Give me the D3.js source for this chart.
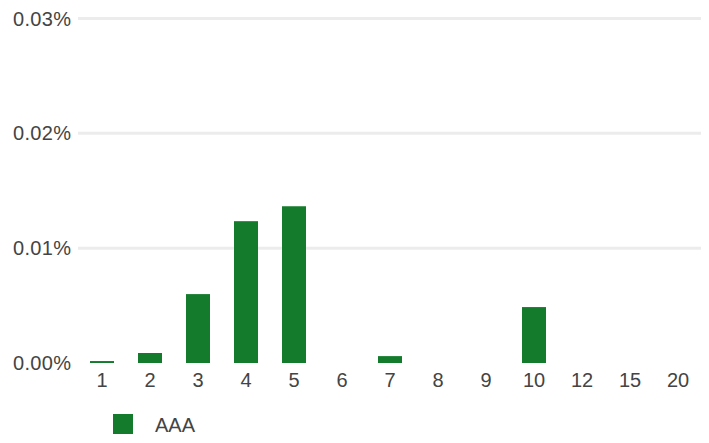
<!DOCTYPE html>
<html>
<head>
<meta charset="utf-8">
<script src="https://cdn.jsdelivr.net/npm/d3@7"></script>
<style>
  html, body { margin: 0; padding: 0; background: #fff; }
  svg { display: block; font-family: "Liberation Sans", Arial, Helvetica, sans-serif; }
</style>
</head>
<body>
<svg id="chart" width="709" height="443"></svg>
<script>
const categories = ["1","2","3","4","5","6","7","8","9","10","12","15","20"];
const seriesName = "AAA";
const values = [0.00017, 0.00087, 0.0060, 0.01235, 0.01365, 0, 0.0006, 0, 0, 0.00487, 0, 0, 0];
const yTicks = [0, 0.01, 0.02, 0.03];
const yTickLabels = ["0.00%", "0.01%", "0.02%", "0.03%"];

const svg = d3.select("#chart");
const barColor = "#137b2b";
const textColor = "#444";
const fontSize = 20;

const x = d3.scaleBand().domain(categories).range([78, 702]).paddingInner(0.5).paddingOuter(0.25);
const y = d3.scaleLinear().domain([0, 0.03]).range([363, 18.5]);

// gridlines
svg.append("g").selectAll("line")
  .data(yTicks.filter(d => d > 0))
  .join("line")
  .attr("x1", 78).attr("x2", 701)
  .attr("y1", d => y(d)).attr("y2", d => y(d))
  .attr("stroke", "#ececec").attr("stroke-width", 3);

// y labels
svg.append("g").selectAll("text")
  .data(yTicks)
  .join("text")
  .attr("x", 13).attr("y", d => y(d))
  .attr("dy", "0.35em")
  .attr("fill", textColor)
  .attr("font-size", fontSize)
  .attr("letter-spacing", 0.3)
  .text((d, i) => yTickLabels[i]);

// bars
svg.append("g").selectAll("rect")
  .data(categories.map((c, i) => ({c, v: values[i]})))
  .join("rect")
  .attr("x", d => x(d.c))
  .attr("width", x.bandwidth())
  .attr("y", d => y(d.v))
  .attr("height", d => y(0) - y(d.v))
  .attr("fill", barColor);

// x labels
svg.append("g").selectAll("text")
  .data(categories)
  .join("text")
  .attr("x", d => x(d) + x.bandwidth() / 2)
  .attr("y", 387)
  .attr("text-anchor", "middle")
  .attr("fill", textColor)
  .attr("font-size", fontSize)
  .text(d => d);

// legend
const lg = svg.append("g");
lg.append("rect").attr("x", 113).attr("y", 414).attr("width", 20).attr("height", 20).attr("fill", barColor);
lg.append("text").attr("x", 155).attr("y", 432).attr("fill", textColor).attr("font-size", fontSize).text(seriesName);
</script>
</body>
</html>
